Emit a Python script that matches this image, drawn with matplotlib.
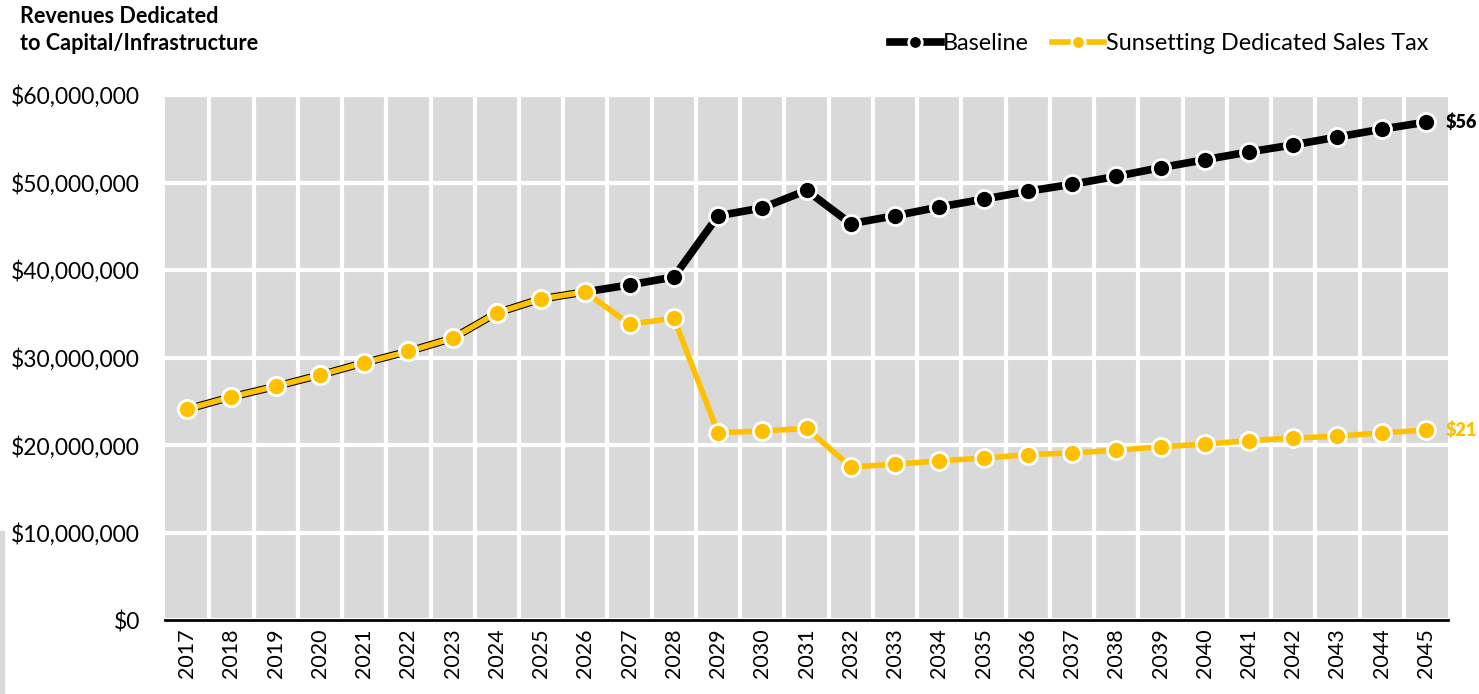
import matplotlib.pyplot as plt
import matplotlib.ticker as mticker
from matplotlib.patches import Rectangle
import numpy as np

plt.rcParams['font.family'] = ['Lato', 'DejaVu Sans']

years = list(range(2017, 2046))
baseline = [24.1, 25.5, 26.7, 28.0, 29.4, 30.7, 32.2, 35.1, 36.7, 37.5,
            38.3, 39.2, 46.2, 47.1, 49.1, 45.3, 46.2, 47.2, 48.1, 49.0,
            49.8, 50.7, 51.7, 52.6, 53.5, 54.3, 55.2, 56.1, 56.9]
sunset = [24.1, 25.5, 26.7, 28.0, 29.4, 30.7, 32.2, 35.1, 36.7, 37.5,
          33.8, 34.5, 21.4, 21.6, 21.9, 17.5, 17.8, 18.2, 18.5, 18.9,
          19.1, 19.4, 19.8, 20.1, 20.5, 20.8, 21.0, 21.4, 21.7]
yticks = [0, 10, 20, 30, 40, 50, 60]
# end labels as far as they are visible in the original
end_labels = ["$56", "$21"]

base_col = 'black'
sun_col = '#ffc000'

fig = plt.figure(figsize=(14.79, 6.94), dpi=100)
ax = fig.add_axes([0.1116, 0.1066, 0.8675, 0.7565])
ax.set_facecolor('#d9d9d9')

x = np.arange(len(years))
b = np.array(baseline) * 1e6
s = np.array(sunset) * 1e6

ax.plot(x, b, color=base_col, lw=5.5, marker='o', ms=13, mfc=base_col,
        mec='white', mew=2, zorder=3, label='Baseline')
ax.plot(x, s, color=sun_col, lw=4, marker='o', ms=13, mfc=sun_col,
        mec='white', mew=2, zorder=4, label='Sunsetting Dedicated Sales Tax')

ax.text(x[-1] + 0.45, b[-1], end_labels[0], color=base_col,
        fontsize=13, fontweight='heavy', va='center', ha='left', clip_on=False)
ax.text(x[-1] + 0.45, s[-1], end_labels[1], color=sun_col,
        fontsize=13, fontweight='heavy', va='center', ha='left', clip_on=False)

ax.set_xlim(-0.5, len(years) - 0.5)
ax.set_ylim(0, 60e6)
ax.set_xticks(x)
ax.set_xticklabels([str(y) for y in years], rotation=90, fontsize=15.5)
ax.set_xticks(x[:-1] + 0.5, minor=True)
ax.set_yticks([v * 1e6 for v in yticks])
ax.yaxis.set_major_formatter(mticker.FuncFormatter(lambda v, p: f"${v:,.0f}"))
ax.tick_params(axis='y', labelsize=16.5, length=0, pad=18)
ax.tick_params(axis='x', which='both', length=0, pad=6)

ax.grid(axis='y', which='major', color='white', lw=3)
ax.grid(axis='x', which='minor', color='white', lw=3)
ax.set_axisbelow(True)
for side in ['top', 'right', 'left']:
    ax.spines[side].set_visible(False)
ax.spines['bottom'].set_linewidth(2)
ax.spines['bottom'].set_zorder(5)

fig.text(0.0135, 0.992, "Revenues Dedicated\nto Capital/Infrastructure",
         fontsize=15.6, fontweight='bold', va='top', ha='left', linespacing=1.4)

fig.legend(loc='upper right', bbox_to_anchor=(0.98, 0.982), ncol=2,
           frameon=False, fontsize=16.8, handlelength=2.2, handletextpad=0.1,
           columnspacing=1.0, markerscale=0.75)

fig.patches.append(Rectangle((0, 0), 0.003, 0.235, transform=fig.transFigure,
                             color='#d9d9d9', zorder=0))

fig.savefig('out.png', dpi=100)
